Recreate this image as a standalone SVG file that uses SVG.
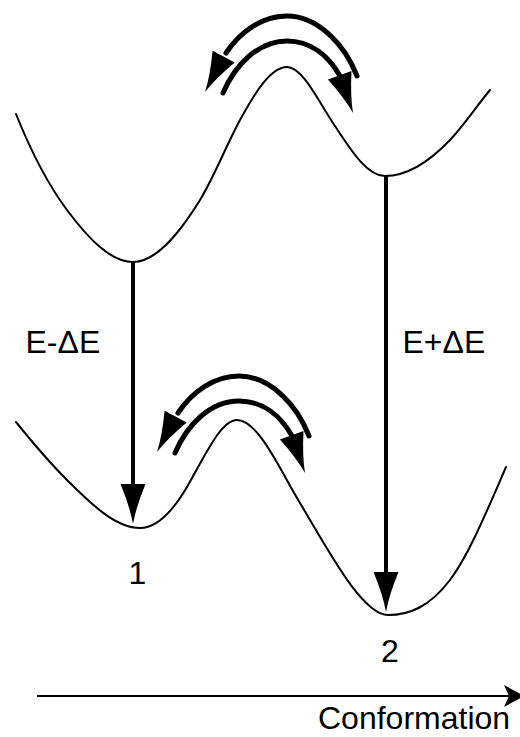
<svg xmlns="http://www.w3.org/2000/svg" width="520" height="737" viewBox="0 0 520 737">
<style>
.curve{fill:none;stroke:#000;stroke-width:2;stroke-linecap:round}
.arc{fill:none;stroke:#000;stroke-width:5;stroke-linecap:round}
.vline{fill:none;stroke:#000;stroke-width:4}
.axis{fill:none;stroke:#000;stroke-width:2}
.lbl{font-family:"Liberation Sans",Arial,sans-serif;font-size:32px;fill:#000}
</style>
<defs>
<path id="head" d="M-12.5,-40 L12.5,-40 Q3,-17 0,0 Q-3,-17 -12.5,-40 Z" fill="#000"/>
<g id="swap">
<path class="arc" d="M357,76 C345,45 318,16 287,16 C262,16 240,32 226,53"/>
<use href="#head" transform="translate(205,92) rotate(27.8)"/>
<path class="arc" d="M223,93 C235,65 258,41 287,41 C310,41 328,55 340,76"/>
<use href="#head" transform="translate(353,113) rotate(-19.4)"/>
</g>
</defs>
<g id="upper-surface">
<path class="curve" d="M16,114 C33,156.5 50,187.2 67,210 C89,239.5 111,262 133,262 C155.3,262 177.7,236.1 200,200 C213.3,178.4 226.7,144.6 240,120 C255.7,91 271.3,67 287,67 C302.3,67 317.7,100 333,123 C349.7,148 366.3,176 385,176 C405.3,176 427.7,163.4 450,140 C463.3,126 476.7,106 490,90"/>
</g>
<g id="lower-surface">
<path class="curve" d="M16,422 C33,443.1 50,463 67,480 C91.3,504.3 115.7,528 140,528 C155.7,528 171.3,513.7 187,487 C203.7,458.6 220.3,420 237,420 C258,420 279,467.9 300,503 C327,548 362,615 388,615 C408.7,615 429.3,607.3 450,580 C468.7,555.3 487.3,510 506,467"/>
</g>
<g id="connectors">
<g id="upper-exchange"><use href="#swap"/></g>
<g id="lower-exchange"><use href="#swap" transform="translate(-48,360)"/></g>
<g id="transition-1">
<line class="vline" x1="133" y1="262" x2="133" y2="490"/>
<use href="#head" transform="translate(133,524)"/>
</g>
<g id="transition-2">
<line class="vline" x1="386" y1="176" x2="386" y2="578"/>
<use href="#head" transform="translate(386,612)"/>
</g>
<g id="axis">
<line class="axis" x1="37" y1="696" x2="512" y2="696"/>
<path d="M504,685 L524,696 L504,707 L509,696 Z" fill="#000"/>
</g>
</g>
<g id="labels">
<text class="lbl" x="25.5" y="353">E-ΔE</text>
<text class="lbl" x="402.5" y="353">E+ΔE</text>
<text class="lbl" x="128.5" y="584">1</text>
<text class="lbl" x="381" y="662">2</text>
<text class="lbl" x="318" y="729">Conformation</text>
</g>
</svg>
